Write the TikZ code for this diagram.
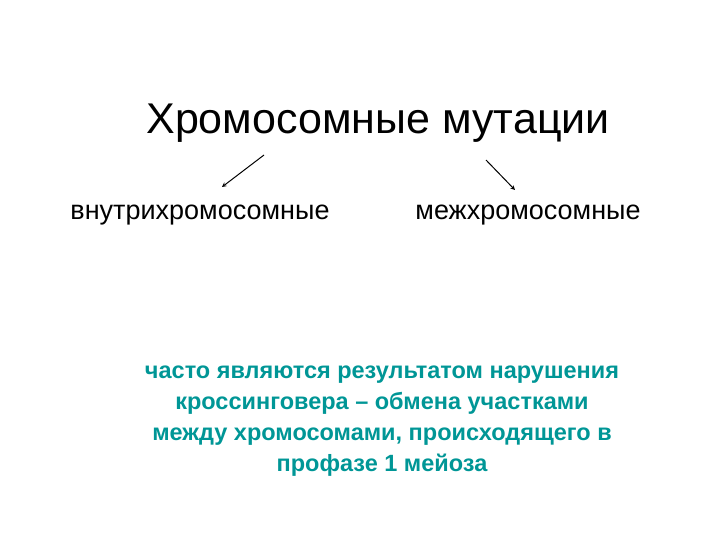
\documentclass[tikz,border=0pt]{standalone}
\usepackage{fontspec}
\setmainfont{Liberation Sans}
\usepackage{tikz}
\definecolor{tealtext}{RGB}{0,150,150}

\begin{document}
\begin{tikzpicture}[x=1pt,y=-1pt,>=stealth]
				\tikzstyle{title}=[font=\fontsize{43}{50}\selectfont]
				\tikzstyle{kind}=[font=\fontsize{27}{32}\selectfont]
				\tikzstyle{note}=[font=\fontsize{23.5}{31}\selectfont\bfseries, text=tealtext, align=center]
				\tikzstyle{pointer}=[->, line width=1pt]

				\useasboundingbox (0,0) rectangle (720,540);

				\node[title] (mut) at (378,123) {Хромосомные мутации};
				\node[kind] (intra) at (200,215) {внутрихромосомные};
				\node[kind] (inter) at (528,215) {межхромосомные};
				\node[note] (cause) at (382,421) {часто являются результатом нарушения\\кроссинговера -- обмена участками\\между хромосомами, происходящего в\\профазе 1 мейоза};

				\coordinate (l1) at (264,155);
				\coordinate (l2) at (222,187);
				\coordinate (r1) at (486,160);
				\coordinate (r2) at (515,190);

				\foreach \from/\to in {l1/l2,r1/r2}
				\draw [pointer] (\from) -- (\to);
			\end{tikzpicture}
\end{document}
